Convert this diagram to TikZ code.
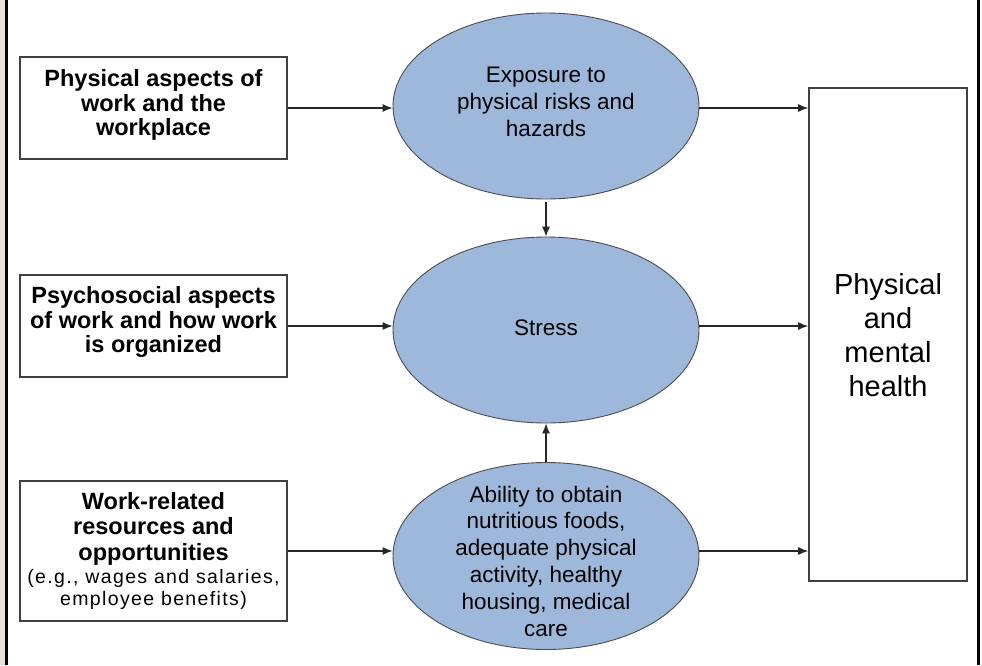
\documentclass[tikz,border=0pt]{standalone}
\usepackage{fontspec}
\setmainfont{Liberation Sans}
\usetikzlibrary{arrows.meta,shapes.geometric}
\definecolor{ellfill}{HTML}{9DB8DA}
\definecolor{beige}{HTML}{E9E1D9}
\begin{document}
\begin{tikzpicture}[x=1pt,y=-1pt,
  lbox/.style={draw=black!75,line width=1.6pt,fill=white,minimum width=267pt,inner sep=0pt},
  ell/.style={ellipse,draw=black!70,line width=0.9pt,fill=ellfill,minimum width=306pt,inner sep=0pt},
  conn/.style={-{Latex[length=10pt,width=8pt]},line width=1.2pt,black!85},
  btxt/.style={align=center,font=\fontsize{23.5}{24.8}\selectfont\bfseries},
  stxt/.style={align=center,font=\fontsize{19.5}{22.5}\selectfont\addfontfeature{LetterSpace=7}},
  etxt/.style={align=center,font=\fontsize{22.5}{26.8}\selectfont}]
\useasboundingbox (0,0) rectangle (982,665);
\fill[white] (0,0) rectangle (982,665);
\fill[beige] (0,0) rectangle (5,665);
\fill[black] (5,0) rectangle (7.5,665);
\fill[black] (977,0) rectangle (980,665);
% left boxes
\node[lbox,minimum height=102pt] (b1) at (153.5,108) {};
\node[btxt] (t1) at (153.5,105) {Physical aspects of\\work and the\\workplace};
\node[lbox,minimum height=102pt] (b2) at (153.5,326) {};
\node[btxt] (t2) at (153.5,322) {Psychosocial aspects\\of work and how work\\is organized};
\node[lbox,minimum height=140pt] (b3) at (153.5,551) {};
\node[btxt,font=\fontsize{23.5}{25.5}\selectfont\bfseries] (t3) at (153.5,528.5) {Work-related\\resources and\\opportunities};
\node[stxt] (t3b) at (153.5,589.5) {(e.g., wages and salaries,\\employee benefits)};
% ellipses
\node[ell,minimum height=186pt] (e1) at (546,106) {};
\node[etxt] (te1) at (546,102) {Exposure to\\physical risks and\\hazards};
\node[ell,minimum height=186pt] (e2) at (546,330) {};
\node[etxt] (te2) at (546,328) {Stress};
\node[ell,minimum height=187pt] (e3) at (546,556) {};
\node[etxt] (te3) at (546,561) {Ability to obtain\\nutritious foods,\\adequate physical\\activity, healthy\\housing, medical\\care};
% right box
\node[lbox,minimum width=158pt,minimum height=493pt] (r) at (888,334.5) {};
\node[align=center,font=\fontsize{29}{34}\selectfont] (tr) at (888,335) {Physical\\and\\mental\\health};
% connectors
\draw[conn] (b1.east) -- (b1.east -| e1.west);
\draw[conn] (b2.east) -- (b2.east -| e2.west);
\draw[conn] (b3.east) -- (b3.east -| e3.west);
\draw[conn] (b1.east -| e1.east) -- (b1.east -| r.west);
\draw[conn] (b2.east -| e2.east) -- (b2.east -| r.west);
\draw[conn] (b3.east -| e3.east) -- (b3.east -| r.west);
\draw[conn,shorten <=3pt] (e1.south) -- (e2.north);
\draw[conn] (e3.north) -- (e2.south);
\end{tikzpicture}
\end{document}
